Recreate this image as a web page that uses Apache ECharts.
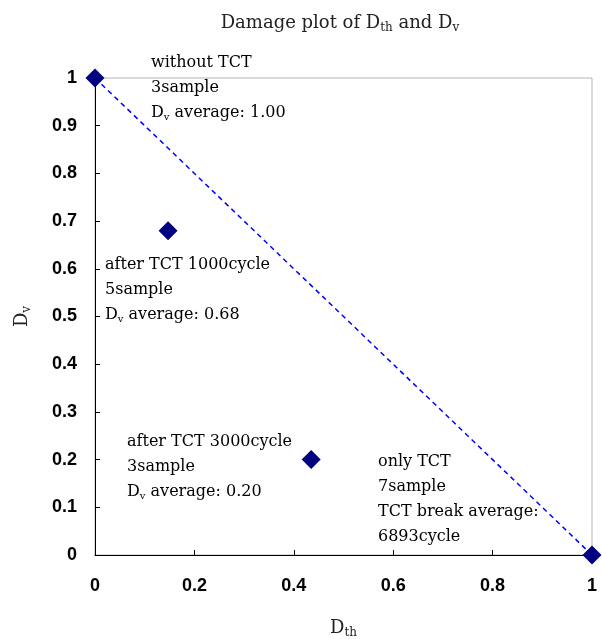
<!DOCTYPE html>
<html>
<head>
<meta charset="utf-8">
<script src="https://cdn.jsdelivr.net/npm/echarts@6/dist/echarts.min.js"></script>
<style>
  html, body { margin:0; padding:0; background:#fff; }
  #main { width:602px; height:639px; }
</style>
</head>
<body>
<div id="main"></div>
<script>
// data
var groups = ['without TCT', 'after TCT 1000cycle', 'after TCT 3000cycle', 'only TCT'];
var dth = [0, 0.147, 0.435, 1];
var dv = [1, 0.68, 0.20, 0];
var lineX = [0, 1];
var lineY = [1, 0];

var serif = '"DejaVu Serif", "Liberation Serif", serif';
var sans = 'Liberation Sans';
var rich = {
  n: { fontSize: 16, fontFamily: serif, color: '#333', lineHeight: 25, fontWeight: 'normal' },
  s: { fontSize: 10, fontFamily: serif, color: '#333', lineHeight: 25, fontWeight: 'normal', padding: [9, 0, 0, 0] }
};
var nameRich = {
  n: { fontSize: 18, fontFamily: serif, color: '#222', lineHeight: 26, fontWeight: 'normal' },
  s: { fontSize: 12, fontFamily: serif, color: '#222', lineHeight: 26, fontWeight: 'normal', padding: [10, 0, 0, 0] }
};

var notes = [
  { left: 151, top: 55, text: '{n|without TCT}\n{n|3sample}\n{n|D}{s|v}{n| average: 1.00}' },
  { left: 105, top: 257, text: '{n|after TCT 1000cycle}\n{n|5sample}\n{n|D}{s|v}{n| average: 0.68}' },
  { left: 127, top: 434, text: '{n|after TCT 3000cycle}\n{n|3sample}\n{n|D}{s|v}{n| average: 0.20}' },
  { left: 378, top: 454, text: '{n|only TCT}\n{n|7sample}\n{n|TCT break average:}\n{n|6893cycle}' }
];

var myChart = echarts.init(document.getElementById('main'));
var option = {
  backgroundColor: '#fff',
  title: {
    text: '{n|Damage plot of D}{s|th}{n| and D}{s|v}',
    left: 335, textAlign: 'center', top: 5,
    textStyle: { fontWeight: 'normal', rich: nameRich }
  },
  grid: { left: 95, right: 10, top: 78, bottom: 84, show: true, borderColor: '#b4b4b4', borderWidth: 1, containLabel: false, outerBoundsMode: 'none' },
  xAxis: {
    type: 'value', min: 0, max: 1, interval: 0.2,
    name: '{n|D}{s|th}', nameLocation: 'middle', nameGap: 60,
    nameTextStyle: { rich: nameRich },
    axisLine: { onZero: false, lineStyle: { color: '#000', width: 1 } },
    axisTick: { show: true, inside: true, length: 5, lineStyle: { color: '#000' } },
    axisLabel: { margin: 22, fontSize: 18, fontWeight: 'bold', color: '#000', fontFamily: sans },
    splitLine: { show: false }, z: 5
  },
  yAxis: {
    type: 'value', min: 0, max: 1, interval: 0.1,
    name: '{n|D}{s|v}', nameLocation: 'middle', nameGap: 60,
    nameTextStyle: { rich: nameRich },
    axisLine: { onZero: false, lineStyle: { color: '#000', width: 1 } },
    axisTick: { show: true, inside: true, length: 5, lineStyle: { color: '#000' } },
    axisLabel: { margin: 18, fontSize: 18, fontWeight: 'bold', color: '#000', fontFamily: sans },
    splitLine: { show: false }, z: 5
  },
  graphic: notes.map(function (n) {
    return { type: 'text', left: n.left, top: n.top, z: 10, style: { text: n.text, rich: rich } };
  }),
  series: [
    {
      type: 'line',
      data: lineX.map(function (x, i) { return [x, lineY[i]]; }),
      symbol: 'none',
      lineStyle: { color: '#0000ff', width: 1.5, type: [5, 4] },
      z: 2, silent: true
    },
    {
      type: 'scatter',
      data: dth.map(function (x, i) { return { name: groups[i], value: [x, dv[i]] }; }),
      symbol: 'diamond', symbolSize: [19, 19],
      itemStyle: { color: '#000080', opacity: 1 },
      clip: false, z: 6
    }
  ]
};
myChart.setOption(option);
</script>
</body>
</html>
